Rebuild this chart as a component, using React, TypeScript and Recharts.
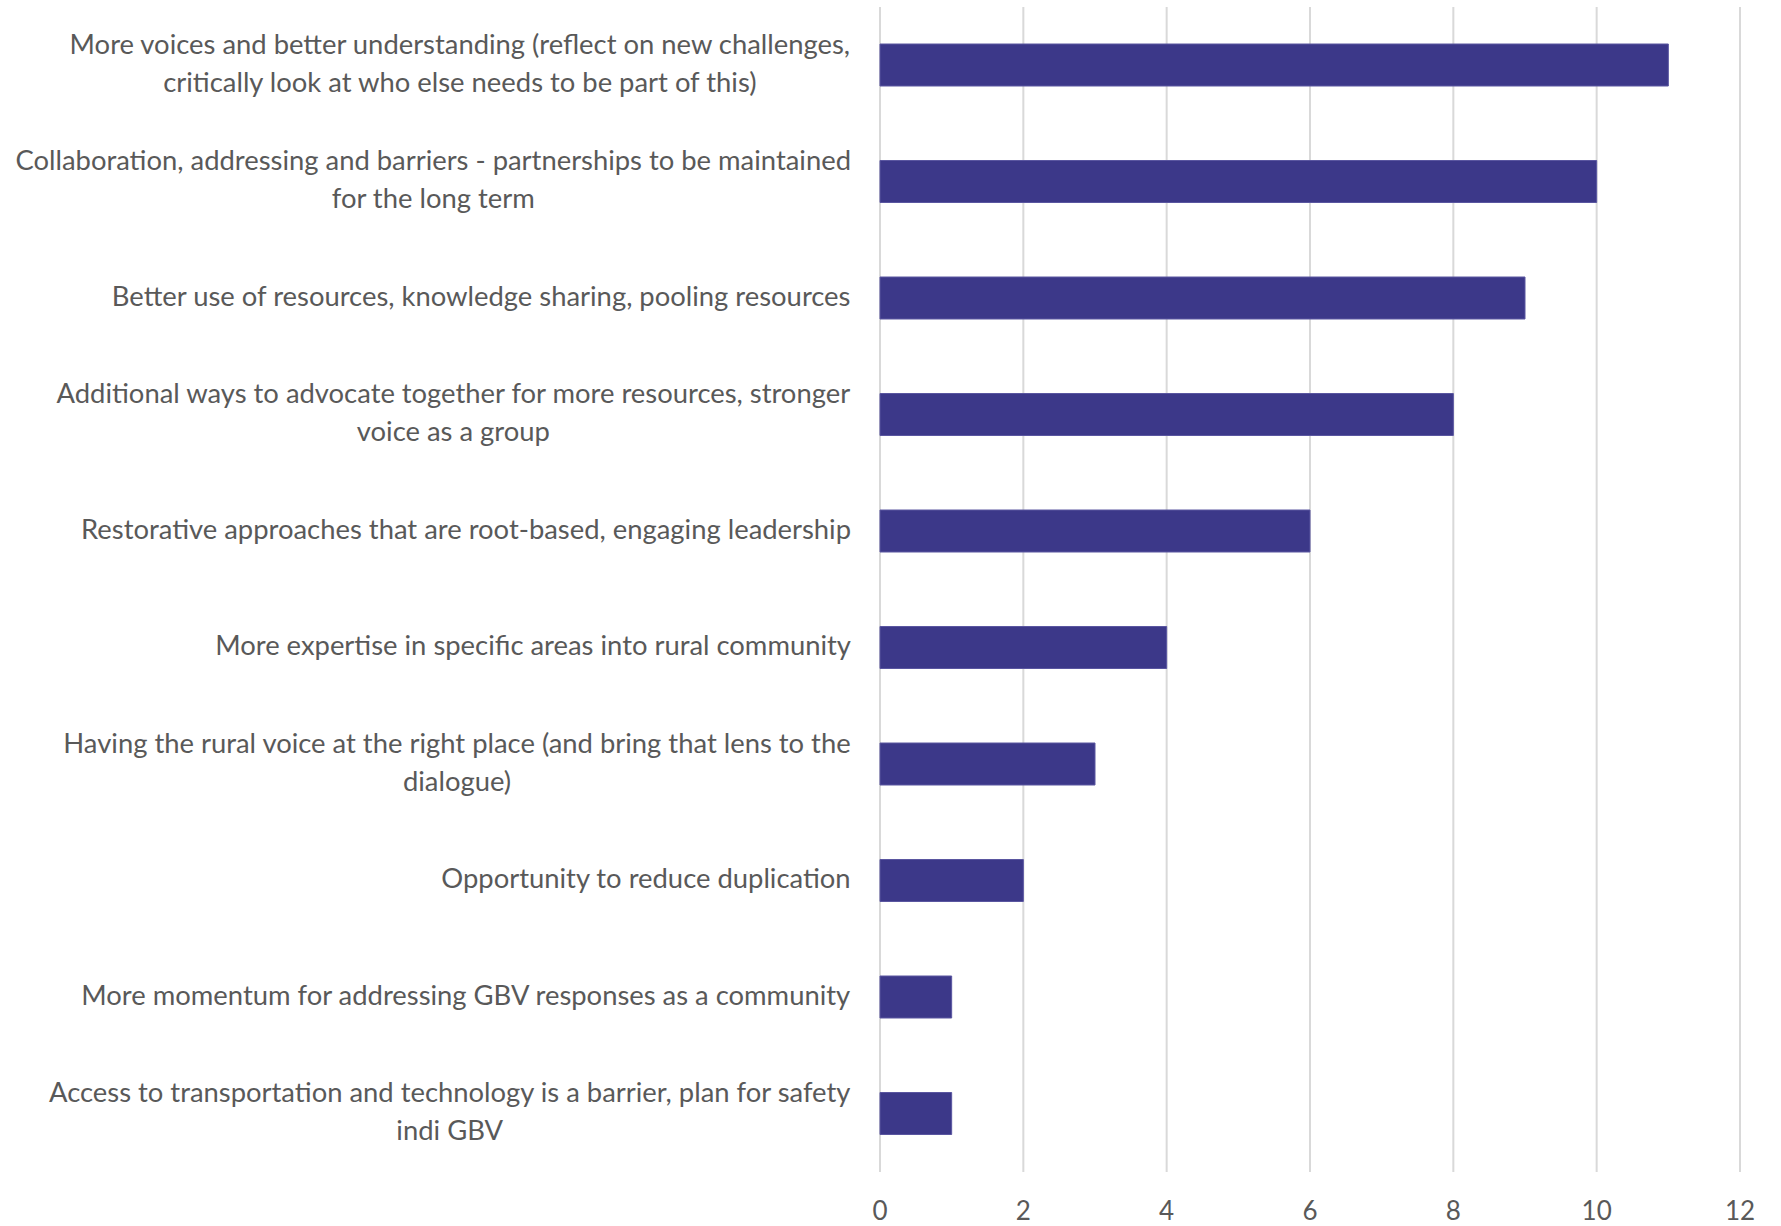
import { Bar, BarChart, CartesianGrid, XAxis, YAxis } from "recharts";

const categories = [
  "More voices and better understanding (reflect on new challenges,\ncritically look at who else needs to be part of this)",
  "Collaboration, addressing and barriers - partnerships to be maintained\nfor the long term",
  "Better use of resources, knowledge sharing, pooling resources",
  "Additional ways to advocate together for more resources, stronger\nvoice as a group",
  "Restorative approaches that are root-based, engaging leadership",
  "More expertise in specific areas into rural community",
  "Having the rural voice at the right place (and bring that lens to the\ndialogue)",
  "Opportunity to reduce duplication",
  "More momentum for addressing GBV responses as a community",
  "Access to transportation and technology is a barrier, plan for safety\nindi GBV",
];
const counts = [11, 10, 9, 8, 6, 4, 3, 2, 1, 1];
const xTicks = [0, 2, 4, 6, 8, 10, 12];

const data = categories.map((label, i) => ({ label, count: counts[i] }));

const FONT = "Lato, 'Open Sans', sans-serif";
const FONT_SIZE = 27.4;
const TEXT = "#595959";

let ctx: CanvasRenderingContext2D | null = null;
function measure(s: string) {
  if (!ctx) ctx = document.createElement("canvas").getContext("2d");
  if (!ctx) return s.length * FONT_SIZE * 0.48;
  ctx.font = `${FONT_SIZE}px Lato`;
  return ctx.measureText(s).width;
}

// multi-line labels: block right-aligned to the axis, lines centred within it
function CategoryTick(props: any) {
  const { x, y, payload } = props;
  const lines: string[] = String(payload.value).split("\n");
  const widest = Math.max(...lines.map(measure));
  const cx = x - widest / 2;
  const lh = 38;
  const top = y - ((lines.length - 1) * lh) / 2;
  return (
    <g>
      {lines.map((line, i) => (
        <text
          key={i}
          x={cx}
          y={top + i * lh}
          dy="0.28em"
          textAnchor="middle"
          fill={TEXT}
          fontSize={FONT_SIZE}
          fontFamily={FONT}
        >
          {line}
        </text>
      ))}
    </g>
  );
}

export default function App() {
  return (
    <div style={{ position: "absolute", left: 0, top: 0, background: "#fff" }}>
      <BarChart
        width={1781}
        height={1226}
        data={data}
        layout="vertical"
        margin={{ top: 7, right: 41, bottom: 0, left: 0 }}
        barSize={42}
      >
        <CartesianGrid horizontal={false} stroke="#d9d9d9" strokeWidth={2} />
        <XAxis
          type="number"
          domain={[0, 12]}
          ticks={xTicks}
          axisLine={false}
          tickLine={false}
          tickSize={0}
          tickMargin={30}
          height={54}
          interval={0}
          tick={{ fill: TEXT, fontSize: 26, fontFamily: FONT }}
        />
        <YAxis
          type="category"
          dataKey="label"
          width={880}
          axisLine={false}
          tickLine={false}
          tickSize={0}
          tickMargin={29}
          interval={0}
          tick={<CategoryTick />}
        />
        <Bar dataKey="count" fill="#3c3889" stroke="#5a56a0" strokeWidth={1} isAnimationActive={false} />
      </BarChart>
    </div>
  );
}
